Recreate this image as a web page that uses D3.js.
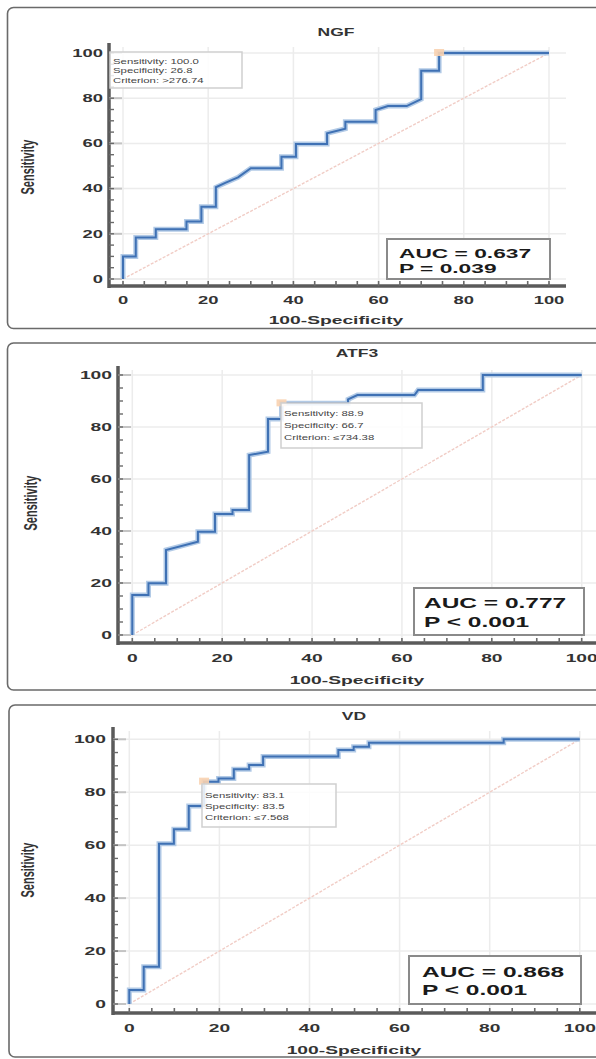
<!DOCTYPE html>
<html>
<head>
<meta charset="utf-8">
<script src="https://cdn.jsdelivr.net/npm/d3@7"></script>
<style>
  body { margin: 0; background: #fff; }
  svg { display: block; font-family: "Liberation Sans", Arial, sans-serif; }
</style>
</head>
<body>
<div id="chart"></div>
<script>
// ---- data ----
var tickValues = [0, 20, 40, 60, 80, 100];
var tickLabels = ["0", "20", "40", "60", "80", "100"];

var ngfFpr = [0, 0, 3.0, 3.0, 7.7, 7.7, 14.9, 14.9, 18.4, 18.4, 21.8, 21.8, 24, 27, 30, 37.2, 37.2, 40.6, 40.6, 47.9, 47.9, 52.2, 52.2, 59.3, 59.3, 62.2, 66.6, 70.0, 70.0, 74.2, 74.2, 100];
var ngfTpr = [0, 10, 10, 18.4, 18.4, 22, 22, 25.4, 25.4, 32, 32, 40.6, 42.5, 45, 49, 49, 54.1, 54.1, 59.7, 59.7, 64.5, 66.5, 69.6, 69.6, 74.8, 76.5, 76.5, 79.6, 92.2, 92.2, 100, 100];

var atf3Fpr = [0, 0, 3.6, 3.6, 7.5, 7.5, 14.6, 14.6, 18.4, 18.4, 22.3, 22.3, 26.0, 26.0, 30.2, 30.2, 33.2, 33.2, 48.0, 48.0, 50.1, 62.8, 63.6, 78.0, 78.0, 100];
var atf3Tpr = [0, 15.4, 15.4, 19.9, 19.9, 32.7, 35.9, 39.7, 39.7, 46.5, 46.5, 48.1, 48.1, 69.2, 70.5, 83.1, 83.1, 89.1, 89.1, 90.6, 92.3, 92.3, 94.2, 94.2, 100, 100];

var vdFpr = [0, 0, 3.2, 3.2, 6.6, 6.6, 9.9, 9.9, 13.2, 13.2, 16.6, 16.6, 19.8, 19.8, 23.2, 23.2, 26.6, 26.6, 29.7, 29.7, 46.4, 46.4, 49.8, 49.8, 53.2, 53.2, 83.1, 83.1, 100];
var vdTpr = [0, 5.3, 5.3, 14.1, 14.1, 60.5, 60.5, 66.0, 66.0, 74.8, 74.8, 84.0, 84.0, 85.2, 85.2, 88.7, 88.7, 90.3, 90.3, 93.5, 93.5, 96.0, 96.0, 97.2, 97.2, 98.7, 98.7, 100, 100];

var titles = ["NGF", "ATF3", "VD"];
var aucLabels = ["AUC = 0.637", "AUC = 0.777", "AUC = 0.868"];
var pLabels = ["P = 0.039", "P < 0.001", "P < 0.001"];
var cutPoints = [[74.2, 100], [33.2, 89.1], [16.6, 84.0]];
var cutTexts = [
    ["Sensitivity: 100.0", "Specificity: 26.8", "Criterion: >276.74"],
    ["Sensitivity: 88.9", "Specificity: 66.7", "Criterion: \u2264734.38"],
    ["Sensitivity: 83.1", "Specificity: 83.5", "Criterion: \u22647.568"]
];

// ---- layout (pixels, style only) ----
var W = 596, H = 1059, stretch = 1.75;

var layouts = [
    {box: [7.5, 7.5, 640, 321], x: [123, 549], y: [279, 53], axisX: 109, axisY: 286, axisTop: 43, axisRight: 566,
     xLabY: 300, yLabR: 103, xTitle: [336, 320], yTitle: [27, 167], title: [336, 32], tickFont: 10.5,
     auc: [387, 239, 163, 40], aucFont: 13, aucText: [399, 253, 268], leg: [110, 52, 132, 36], legLines: [62, 71, 81]},
    {box: [7.5, 343, 640, 347], x: [132.3, 581.7], y: [635, 375], axisX: 118, axisY: 643, axisTop: 366, axisRight: 620,
     xLabY: 658, yLabR: 112, xTitle: [357, 680], yTitle: [30, 503], title: [357, 353], tickFont: 11,
     auc: [414, 588, 170, 47], aucFont: 14, aucText: [424, 603, 622], leg: [281, 403, 141, 45], legLines: [414, 426, 438]},
    {box: [9, 705, 640, 352], x: [129.3, 579.8], y: [1004, 739.3], axisX: 113, axisY: 1013, axisTop: 727, axisRight: 620,
     xLabY: 1028, yLabR: 106, xTitle: [354, 1050], yTitle: [27, 870], title: [354, 716], tickFont: 11,
     auc: [409, 956, 172, 48], aucFont: 14, aucText: [422, 972, 990], leg: [202, 784, 134, 43], legLines: [796, 807, 818]}
];

var curves = [[ngfFpr, ngfTpr], [atf3Fpr, atf3Tpr], [vdFpr, vdTpr]];

var svg = d3.select("#chart")
    .append("svg")
    .attr("width", W)
    .attr("height", H);

// wide text like the reference (glyphs are horizontally stretched there)
let wideText = (g, x, y, str, size, anchor, weight, fill) => g.append("text")
    .attr("transform", `translate(${x}, ${y}) scale(${stretch}, 1)`)
    .attr("text-anchor", anchor)
    .attr("dominant-baseline", "central")
    .style("font-size", size + "px")
    .style("font-weight", weight)
    .attr("fill", fill)
    .text(str);

let drawPanel = (i) => {
    let L = layouts[i];
    let g = svg.append("g").attr("class", "panel");

    let x = d3.scaleLinear().domain([0, 100]).range(L.x);
    let y = d3.scaleLinear().domain([0, 100]).range(L.y);

    // frame
    g.append("rect")
        .attr("x", L.box[0]).attr("y", L.box[1])
        .attr("width", L.box[2]).attr("height", L.box[3])
        .attr("rx", 6)
        .attr("fill", "#fff")
        .attr("stroke", "#6a6a6a")
        .attr("stroke-width", 1.6);

    // grid
    g.append("g").selectAll("line")
        .data(tickValues)
        .join("line")
        .attr("x1", d => x(d)).attr("x2", d => x(d))
        .attr("y1", L.axisTop + 4).attr("y2", L.axisY)
        .attr("stroke", "#ececec").attr("stroke-width", 1.5);

    g.append("g").selectAll("line")
        .data(tickValues)
        .join("line")
        .attr("x1", L.axisX).attr("x2", L.axisRight)
        .attr("y1", d => y(d)).attr("y2", d => y(d))
        .attr("stroke", "#ececec").attr("stroke-width", 1.5);

    // diagonal reference
    g.append("line")
        .attr("x1", x(0)).attr("y1", y(0))
        .attr("x2", x(100)).attr("y2", y(100))
        .attr("stroke", "#f1cdc6")
        .attr("stroke-width", 1.4)
        .attr("stroke-dasharray", "3,1.5");

    // ROC curve
    let pts = curves[i][0].map((fx, k) => [fx, curves[i][1][k]]);
    let line = d3.line().x(d => x(d[0])).y(d => y(d[1]));

    g.append("path")
        .datum(pts)
        .attr("d", line)
        .attr("fill", "none")
        .attr("stroke", "#b2cae6")
        .attr("stroke-width", 5);

    g.append("path")
        .datum(pts)
        .attr("d", line)
        .attr("fill", "none")
        .attr("stroke", "#3f71b4")
        .attr("stroke-width", 2);

    // cut-off marker
    let cp = cutPoints[i];
    g.append("rect")
        .attr("x", x(cp[0]) - 5).attr("y", y(cp[1]) - 4)
        .attr("width", 10).attr("height", 7)
        .attr("fill", "#f8d2b0")
        .attr("opacity", 0.9);

    // axes
    g.append("line")
        .attr("x1", L.axisX).attr("x2", L.axisX)
        .attr("y1", L.axisTop).attr("y2", L.axisY + 2)
        .attr("stroke", "#5a5a5a").attr("stroke-width", 3.5);

    g.append("line")
        .attr("x1", L.axisX).attr("x2", L.axisRight)
        .attr("y1", L.axisY).attr("y2", L.axisY)
        .attr("stroke", "#5a5a5a").attr("stroke-width", 3.5);

    let minor = d3.range(0, 101, 5);

    // major ticks (light, inside)
    g.append("g").selectAll("line")
        .data(tickValues)
        .join("line")
        .attr("x1", L.axisX).attr("x2", L.axisX + 13)
        .attr("y1", d => y(d)).attr("y2", d => y(d))
        .attr("stroke", "#c4c4c4").attr("stroke-width", 2);

    // minor ticks (dark, short)
    g.append("g").selectAll("line")
        .data(minor)
        .join("line")
        .attr("x1", L.axisX).attr("x2", L.axisX + 5)
        .attr("y1", d => y(d)).attr("y2", d => y(d))
        .attr("stroke", "#6a6a6a").attr("stroke-width", 1.4);

    g.append("g").selectAll("line")
        .data(minor)
        .join("line")
        .attr("x1", d => x(d)).attr("x2", d => x(d))
        .attr("y1", L.axisY).attr("y2", L.axisY - 5)
        .attr("stroke", "#6a6a6a").attr("stroke-width", 1.6);

    // tick labels
    tickValues.forEach((t, k) => {
        wideText(g, L.yLabR, y(t), tickLabels[k], L.tickFont, "end", "bold", "#333");
        wideText(g, x(t), L.xLabY, tickLabels[k], L.tickFont, "middle", "bold", "#333");
    });

    // titles
    wideText(g, L.title[0], L.title[1], titles[i], 10, "middle", "bold", "#333");
    wideText(g, L.xTitle[0], L.xTitle[1], "100-Specificity", 11, "middle", "bold", "#333");
    g.append("text")
        .attr("transform", `translate(${L.yTitle[0]}, ${L.yTitle[1]}) scale(${stretch}, 1) rotate(-90)`)
        .attr("text-anchor", "middle")
        .attr("dominant-baseline", "central")
        .style("font-size", "11px")
        .style("font-weight", "bold")
        .attr("fill", "#333")
        .text("Sensitivity");

    // cut-off legend
    g.append("rect")
        .attr("x", L.leg[0]).attr("y", L.leg[1])
        .attr("width", L.leg[2]).attr("height", L.leg[3])
        .attr("fill", "#fff")
        .attr("fill-opacity", 0.85)
        .attr("stroke", "#cfcfcf").attr("stroke-width", 1.5);

    cutTexts[i].forEach((s, k) => {
        wideText(g, L.leg[0] + 3, L.legLines[k], s, 6.5, "start", "normal", "#444");
    });

    // AUC box
    g.append("rect")
        .attr("x", L.auc[0]).attr("y", L.auc[1])
        .attr("width", L.auc[2]).attr("height", L.auc[3])
        .attr("fill", "#fff")
        .attr("stroke", "#8a8a8a").attr("stroke-width", 2);

    wideText(g, L.aucText[0], L.aucText[1], aucLabels[i], L.aucFont, "start", "bold", "#1a1a1a");
    wideText(g, L.aucText[0], L.aucText[2], pLabels[i], L.aucFont, "start", "bold", "#1a1a1a");
};

[0, 1, 2].forEach(drawPanel);
</script>
</body>
</html>
